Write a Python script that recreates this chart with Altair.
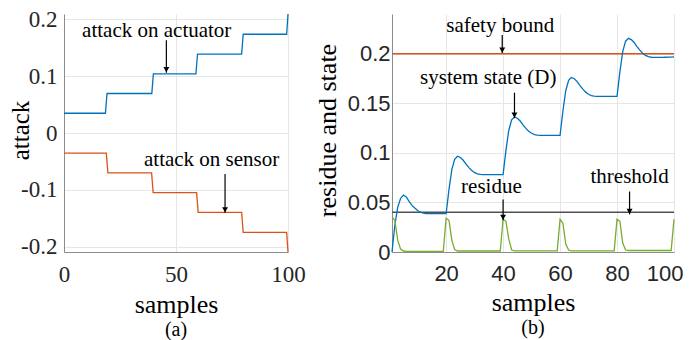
import altair as alt
import pandas as pd

# ---------------- data ----------------
# panel (a): step-shaped attack signals (corner points of the staircase)
actuator_x = [0, 18.5, 19.2, 39.2, 39.9, 58.9, 59.6, 79.3, 80.0, 99.4, 100]
actuator_y = [0.0347, 0.0347, 0.0694, 0.0694, 0.1040, 0.1040, 0.1387, 0.1387, 0.1734, 0.1734, 0.209]
sensor_x = [0, 18.9, 19.6, 39.1, 39.8, 59.2, 59.9, 79.3, 80.0, 99.4, 100]
sensor_y = [-0.0355, -0.0355, -0.0700, -0.0700, -0.1047, -0.1047, -0.1393, -0.1393, -0.1745, -0.1745, -0.209]

# panel (b): samples 1..100
samples = list(range(1, 101))
state = [
    0.0, 0.027, 0.045, 0.054, 0.0574, 0.0555, 0.051, 0.047, 0.0443, 0.0418,
    0.0401, 0.0391, 0.0387, 0.0386, 0.0386, 0.0386, 0.0386, 0.0386, 0.0386, 0.0386,
    0.0629, 0.0831, 0.0935, 0.0966, 0.0953, 0.0925, 0.0886, 0.0851, 0.0821, 0.0800,
    0.0787, 0.0782, 0.0780, 0.0780, 0.0780, 0.0780, 0.0780, 0.0780, 0.0780, 0.0780,
    0.1024, 0.1228, 0.1333, 0.1362, 0.1349, 0.1321, 0.1282, 0.1247, 0.1218, 0.1197,
    0.1184, 0.1179, 0.1177, 0.1177, 0.1177, 0.1177, 0.1177, 0.1177, 0.1177, 0.1177,
    0.1422, 0.1626, 0.1731, 0.1760, 0.1747, 0.1718, 0.1678, 0.1642, 0.1612, 0.1591,
    0.1578, 0.1572, 0.1570, 0.1570, 0.1570, 0.1570, 0.1570, 0.1570, 0.1570, 0.1570,
    0.1816, 0.2020, 0.2126, 0.2155, 0.2142, 0.2113, 0.2072, 0.2035, 0.2004, 0.1983,
    0.1970, 0.1964, 0.1962, 0.1962, 0.1962, 0.1963, 0.1964, 0.1965, 0.1966, 0.1967,
]
residue = [
    0.035, 0.032, 0.012, 0.003, 0.001, 0.0006, 0.0006, 0.0006, 0.0006, 0.0006,
    0.0006, 0.0006, 0.0006, 0.0006, 0.0006, 0.0006, 0.0006, 0.0006, 0.0006, 0.034,
    0.032, 0.012, 0.0025, 0.001, 0.001, 0.001, 0.001, 0.001, 0.001, 0.001,
    0.001, 0.001, 0.001, 0.001, 0.001, 0.001, 0.001, 0.001, 0.001, 0.033,
    0.031, 0.013, 0.002, 0.0012, 0.0012, 0.0012, 0.0012, 0.0012, 0.0012, 0.0012,
    0.0012, 0.0012, 0.0012, 0.0012, 0.0012, 0.0012, 0.0012, 0.0012, 0.0012, 0.033,
    0.029, 0.008, 0.002, 0.0012, 0.0012, 0.0012, 0.0012, 0.0012, 0.0012, 0.0012,
    0.0012, 0.0012, 0.0012, 0.0012, 0.0012, 0.0012, 0.0012, 0.0012, 0.0012, 0.033,
    0.031, 0.009, 0.002, 0.0015, 0.0015, 0.0015, 0.0015, 0.0015, 0.0015, 0.0015,
    0.0015, 0.0015, 0.0015, 0.0015, 0.0015, 0.0015, 0.0015, 0.0015, 0.0015, 0.033,
]
bound_names = ["safety bound", "threshold"]
bound_values = [0.2, 0.04]

# annotations
ann_a_text = ["attack on actuator", "attack on sensor"]
ann_a_x = [41.4, 65.9]
ann_a_y = [0.169, -0.058]
arr_a_x = [45.7, 71.9]
arr_a_y1 = [0.163, -0.072]
arr_a_y2 = [0.106, -0.140]

ann_b_text = ["safety bound", "system state (D)", "residue", "threshold"]
ann_b_x = [39.0, 34.8, 35.9, 84.4]
ann_b_y = [0.222, 0.1695, 0.059, 0.0695]
arr_b_x = [39.7, 44.0, 40.0, 84.4]
arr_b_y1 = [0.2187, 0.1607, 0.053, 0.061]
arr_b_y2 = [0.2006, 0.135, 0.032, 0.038]

# ---------------- style ----------------
SERIF = "Times New Roman, Liberation Serif, Tinos, DejaVu Serif, serif"
SANS = "Liberation Sans, Arial, Helvetica, sans-serif"
BLUE, ORANGE, GREEN, GRAY = "#0072BD", "#D95319", "#77AC30", "#505050"
SPINE, GRID = "#8c8c8c", "#e6e6e6"
H = 238
W1 = 224
W2 = 282

# ---------------- panel (a) ----------------
df_a = pd.concat([
    pd.DataFrame({"x": actuator_x, "y": actuator_y, "s": "actuator"}),
    pd.DataFrame({"x": sensor_x, "y": sensor_y, "s": "sensor"}),
])
ann_a = pd.DataFrame({"t": ann_a_text, "x": ann_a_x, "y": ann_a_y})
arr_a = pd.DataFrame({"x": arr_a_x, "y1": arr_a_y1, "y2": arr_a_y2})

xa = alt.X("x:Q", scale=alt.Scale(domain=[0, 100], nice=False),
           axis=alt.Axis(values=[0, 50, 100], title="samples", labelFont=SERIF, labelFontSize=23,
                         labelColor="#262626", labelPadding=11, ticks=False, domainColor=SPINE,
                         gridColor=GRID, titleFont=SERIF, titleFontSize=26, titleFontWeight="normal",
                         titlePadding=5, titleColor="black", labelFlush=False))
ya = alt.Y("y:Q", scale=alt.Scale(domain=[-0.209, 0.209], nice=False),
           axis=alt.Axis(values=[-0.2, -0.1, 0, 0.1, 0.2], title="attack",
                         labelExpr="datum.value < 0 ? '-' + format(-datum.value, '~g') : format(datum.value, '~g')",
                         labelFont=SERIF, labelFontSize=23, labelColor="#262626", labelPadding=7,
                         ticks=False, domainColor=SPINE, gridColor=GRID, titleFont=SERIF,
                         titleFontSize=25, titleFontWeight="normal", titleColor="black",
                         titleAngle=270, titleAlign="center", titleBaseline="alphabetic",
                         titleX=-36, titleY=116))

lines_a = alt.Chart(df_a).mark_line(strokeWidth=1.3).encode(
    x=xa, y=ya,
    color=alt.Color("s:N", scale=alt.Scale(domain=["actuator", "sensor"], range=[BLUE, ORANGE]), legend=None),
    detail="s:N")
text_a = alt.Chart(ann_a).mark_text(font=SERIF, fontSize=21, baseline="alphabetic", align="center",
                                    color="black").encode(x="x:Q", y="y:Q", text="t:N")
rule_a = alt.Chart(arr_a).mark_rule(color="black", strokeWidth=1.2).encode(x="x:Q", y="y1:Q", y2="y2:Q")
head_a = alt.Chart(arr_a).mark_point(shape="triangle-down", filled=True, color="black", size=35,
                                     opacity=1, yOffset=-3).encode(x="x:Q", y="y2:Q")

panel_a = alt.layer(lines_a, text_a, rule_a, head_a).properties(
    width=W1, height=H,
    title=alt.TitleParams("(a)", orient="bottom", font=SERIF, fontSize=20, fontWeight="normal",
                          color="black", offset=3, anchor="middle", frame="group"))

# ---------------- panel (b) ----------------
df_b = pd.concat([
    pd.DataFrame({"x": samples, "y": state, "s": "state"}),
    pd.DataFrame({"x": samples, "y": residue, "s": "residue"}),
])
bounds = pd.DataFrame({"name": bound_names, "y": bound_values})
ann_b = pd.DataFrame({"t": ann_b_text, "x": ann_b_x, "y": ann_b_y})
arr_b = pd.DataFrame({"x": arr_b_x, "y1": arr_b_y1, "y2": arr_b_y2})

xb = alt.X("x:Q", scale=alt.Scale(domain=[1, 100], nice=False),
           axis=alt.Axis(values=[20, 40, 60, 80, 100], title="samples", labelFont=SANS, labelFontSize=22,
                         labelColor="#262626", labelPadding=11, ticks=False, domainColor=SPINE,
                         gridColor=GRID, titleFont=SERIF, titleFontSize=26, titleFontWeight="normal",
                         titlePadding=5, titleColor="black", labelFlush=1, labelFlushOffset=9))
yb = alt.Y("y:Q", scale=alt.Scale(domain=[0, 0.24], nice=False),
           axis=alt.Axis(values=[0, 0.05, 0.1, 0.15, 0.2], format="~g", title="residue and state",
                         labelFont=SANS, labelFontSize=22, labelColor="#262626", labelPadding=2,
                         ticks=False, domainColor=SPINE, gridColor=GRID, titleFont=SERIF,
                         titleFontSize=26, titleFontWeight="normal", titleColor="black",
                         titleAngle=270, titleAlign="center", titleBaseline="alphabetic",
                         titleX=-57, titleY=116))

bound_b = alt.Chart(bounds).mark_rule(strokeWidth=1.5).encode(
    y=yb,
    color=alt.Color("name:N", scale=alt.Scale(domain=bound_names, range=[ORANGE, GRAY]), legend=None))
lines_b = alt.Chart(df_b).mark_line(strokeWidth=1.3).encode(
    x=xb, y="y:Q",
    color=alt.Color("s:N", scale=alt.Scale(domain=["state", "residue"], range=[BLUE, GREEN]), legend=None),
    detail="s:N")
text_b = alt.Chart(ann_b).mark_text(font=SERIF, fontSize=21, baseline="alphabetic", align="center",
                                    color="black").encode(x="x:Q", y="y:Q", text="t:N")
rule_b = alt.Chart(arr_b).mark_rule(color="black", strokeWidth=1.2).encode(x="x:Q", y="y1:Q", y2="y2:Q")
head_b = alt.Chart(arr_b).mark_point(shape="triangle-down", filled=True, color="black", size=35,
                                     opacity=1, yOffset=-3).encode(x="x:Q", y="y2:Q")

panel_b = alt.layer(bound_b, lines_b, text_b, rule_b, head_b).resolve_scale(color="independent").properties(
    width=W2, height=H,
    title=alt.TitleParams("(b)", orient="bottom", font=SERIF, fontSize=20, fontWeight="normal",
                          color="black", offset=3, anchor="middle", frame="group"))

chart = alt.hconcat(panel_a, panel_b, spacing=8).resolve_scale(color="independent").properties(
    padding={"left": 0, "top": 0, "right": 0, "bottom": 0}
).configure_view(stroke=None)

chart.save("out.html", embed_options={"renderer": "svg", "actions": False})
